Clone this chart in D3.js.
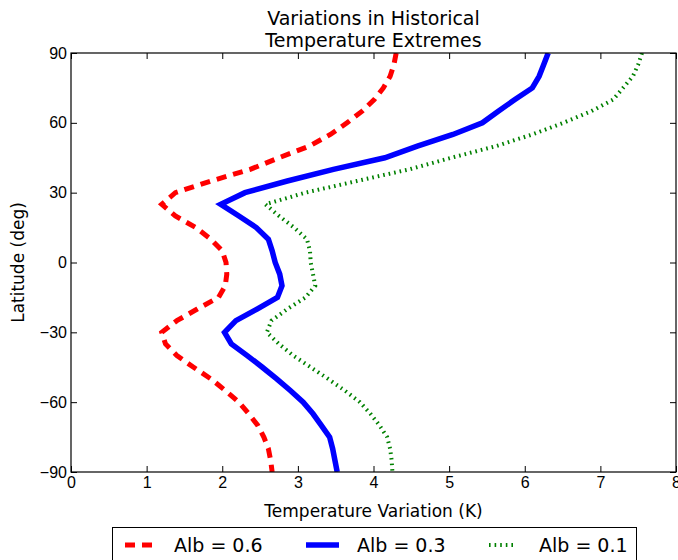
<!DOCTYPE html>
<html>
<head>
<meta charset="utf-8">
<script src="https://cdn.jsdelivr.net/npm/d3@7"></script>
<style>
  body { margin: 0; background: #fff; }
  svg { font-family: "DejaVu Sans", sans-serif; }
</style>
</head>
<body>
<svg id="chart"></svg>
<script>
// latitude grid (deg) shared by all three runs
const latitudes = [90, 85, 80, 75, 70, 65, 60, 55, 50, 45, 40, 35, 30, 25, 20, 15, 10, 5, 0,
  -5, -10, -15, -20, -25, -30, -35, -40, -45, -50, -55, -60, -65, -70, -75, -80, -85, -90];

// temperature variation (K), one value per latitude
const alb06 = [4.30, 4.27, 4.22, 4.13, 4.01, 3.85, 3.65, 3.43, 3.15, 2.75, 2.37, 1.85, 1.38, 1.20, 1.38, 1.65, 1.85, 2.00, 2.05,
  2.06, 2.04, 1.95, 1.67, 1.40, 1.20, 1.25, 1.40, 1.62, 1.85, 2.04, 2.22, 2.35, 2.47, 2.55, 2.61, 2.64, 2.66];
const alb03 = [6.31, 6.25, 6.19, 6.10, 5.87, 5.65, 5.44, 5.05, 4.58, 4.15, 3.47, 2.86, 2.30, 1.98, 2.22, 2.45, 2.61, 2.66, 2.70,
  2.76, 2.79, 2.73, 2.46, 2.18, 2.03, 2.12, 2.33, 2.53, 2.72, 2.90, 3.07, 3.20, 3.31, 3.42, 3.46, 3.49, 3.52];
const alb01 = [7.55, 7.50, 7.43, 7.30, 7.17, 6.88, 6.51, 6.10, 5.62, 5.03, 4.47, 3.78, 3.10, 2.57, 2.75, 2.95, 3.12, 3.16, 3.17,
  3.20, 3.23, 3.10, 2.86, 2.65, 2.59, 2.75, 2.94, 3.17, 3.40, 3.62, 3.82, 3.96, 4.08, 4.18, 4.22, 4.24, 4.25];

const seriesNames = ["Alb = 0.6", "Alb = 0.3", "Alb = 0.1"];
const xTicks = [0, 1, 2, 3, 4, 5, 6, 7, 8];
const yTicks = [-90, -60, -30, 0, 30, 60, 90];

const width = 678, height = 560;
const margin = { top: 53, right: 2, bottom: 88, left: 71 };
const plotW = width - margin.left - margin.right;
const plotH = height - margin.top - margin.bottom;

const svg = d3.select("#chart").attr("width", width).attr("height", height);

const xScale = d3.scaleLinear().domain([0, 8]).range([0, plotW]);
const yScale = d3.scaleLinear().domain([-90, 90]).range([plotH, 0]);

const g = svg.append("g").attr("transform", `translate(${margin.left},${margin.top})`);

// line styles, matplotlib classic look
const styles = [
  { color: "#ff0000", width: 5, dash: "10,7" },
  { color: "#0000ff", width: 5.5, dash: null },
  { color: "#008000", width: 4, dash: "1.6,4" },
];
const seriesData = [alb06, alb03, alb01];

const clip = svg.append("defs").append("clipPath").attr("id", "plotclip");
clip.append("rect").attr("width", plotW).attr("height", plotH);

const line = d3.line()
  .x((d) => xScale(d[0]))
  .y((d) => yScale(d[1]));

seriesData.forEach((vals, i) => {
  const pts = vals.map((v, j) => [v, latitudes[j]]);
  g.append("path")
    .datum(pts)
    .attr("clip-path", "url(#plotclip)")
    .attr("fill", "none")
    .attr("stroke", styles[i].color)
    .attr("stroke-width", styles[i].width)
    .attr("stroke-dasharray", styles[i].dash)
    .attr("stroke-linejoin", "miter")
    .attr("d", line);
});

// axes with inward ticks on all four sides
const styleAxis = (sel) => {
  sel.select(".domain").remove();
  sel.selectAll(".tick line").attr("stroke", "#000").attr("stroke-width", 1);
  sel.selectAll(".tick text").attr("fill", "#000").style("font-size", "16px");
};

g.append("g")
  .attr("transform", `translate(0,${plotH})`)
  .call(d3.axisBottom(xScale).tickValues(xTicks).tickSize(-6).tickPadding(5))
  .call(styleAxis);
g.append("g")
  .call(d3.axisTop(xScale).tickValues(xTicks).tickSize(-6).tickFormat(""))
  .call(styleAxis);
g.append("g")
  .call(d3.axisLeft(yScale).tickValues(yTicks).tickSize(-6).tickPadding(4))
  .call(styleAxis);
g.append("g")
  .attr("transform", `translate(${plotW},0)`)
  .call(d3.axisRight(yScale).tickValues(yTicks).tickSize(-6).tickFormat(""))
  .call(styleAxis);

g.append("rect")
  .attr("width", plotW)
  .attr("height", plotH)
  .attr("fill", "none")
  .attr("stroke", "#000")
  .attr("stroke-width", 1.2);

// titles and labels
const cx = margin.left + plotW / 2;
svg.append("text").attr("x", cx).attr("y", 25).attr("text-anchor", "middle")
  .style("font-size", "19px").text("Variations in Historical");
svg.append("text").attr("x", cx).attr("y", 47).attr("text-anchor", "middle")
  .style("font-size", "19px").text("Temperature Extremes");

svg.append("text").attr("x", cx).attr("y", 517).attr("text-anchor", "middle")
  .style("font-size", "17px").text("Temperature Variation (K)");

svg.append("text")
  .attr("transform", `translate(24,${margin.top + plotH / 2}) rotate(-90)`)
  .attr("text-anchor", "middle")
  .style("font-size", "17px")
  .text("Latitude (deg)");

// legend
const legend = svg.append("g");
legend.append("rect")
  .attr("x", 112.5).attr("y", 527.5)
  .attr("width", 524).attr("height", 60)
  .attr("fill", "#fff").attr("stroke", "#000").attr("stroke-width", 1);

const legendX = [125, 306, 489];
const textX = [174, 357, 539];
seriesNames.forEach((name, i) => {
  legend.append("line")
    .attr("x1", legendX[i]).attr("x2", legendX[i] + (i === 1 ? 33 : 28))
    .attr("y1", 545).attr("y2", 545)
    .attr("stroke", styles[i].color)
    .attr("stroke-width", styles[i].width)
    .attr("stroke-dasharray", styles[i].dash);
  legend.append("text")
    .attr("x", textX[i]).attr("y", 552)
    .style("font-size", "19px")
    .text(name);
});
</script>
</body>
</html>
